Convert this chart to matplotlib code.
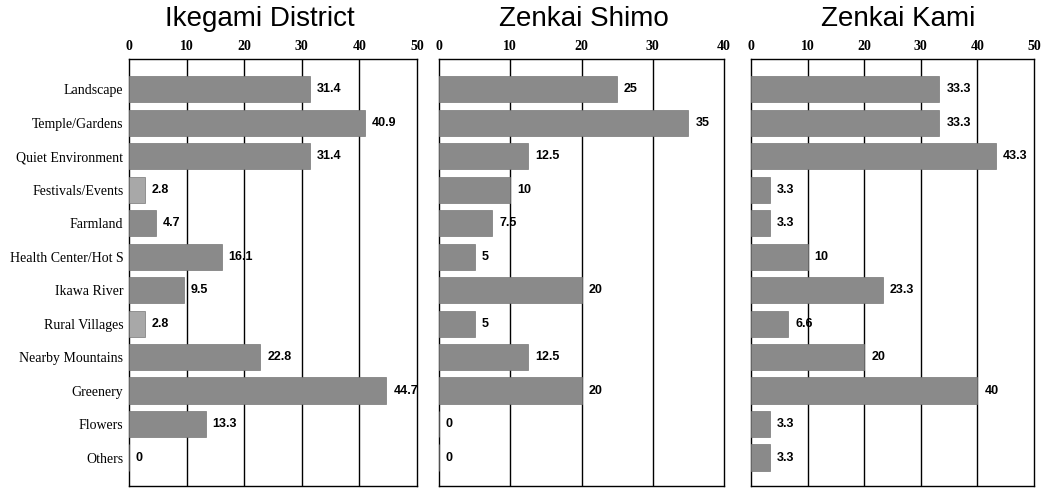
import matplotlib
matplotlib.use('Agg')
import matplotlib.pyplot as plt
import numpy as np

categories = ['Landscape', 'Temple/Gardens', 'Quiet Environment', 'Festivals/Events',
              'Farmland', 'Health Center/Hot S', 'Ikawa River', 'Rural Villages',
              'Nearby Mountains', 'Greenery', 'Flowers', 'Others']
titles = ['Ikegami District', 'Zenkai Shimo', 'Zenkai Kami']
ikegami = [31.4, 40.9, 31.4, 2.8, 4.7, 16.1, 9.5, 2.8, 22.8, 44.7, 13.3, 0]
shimo = [25, 35, 12.5, 10, 7.5, 5, 20, 5, 12.5, 20, 0, 0]
kami = [33.3, 33.3, 43.3, 3.3, 3.3, 10, 23.3, 6.6, 20, 40, 3.3, 3.3]
value_labels = [
    ['31.4', '40.9', '31.4', '2.8', '4.7', '16.1', '9.5', '2.8', '22.8', '44.7', '13.3', '0'],
    ['25', '35', '12.5', '10', '7.5', '5', '20', '5', '12.5', '20', '0', '0'],
    ['33.3', '33.3', '43.3', '3.3', '3.3', '10', '23.3', '6.6', '20', '40', '3.3', '3.3'],
]
xmax = [50, 40, 50]
series = [ikegami, shimo, kami]

W, H = 1046, 488
fig = plt.figure(figsize=(W / 100, H / 100), dpi=100)
# pixel boxes (left, right) of each panel, and title centres
boxes = [(129, 417), (439, 724), (751, 1034)]
title_x = [260, 584, 898]
top, bottom = 59, 486

y = np.arange(len(categories))
for k in range(3):
    l, r = boxes[k]
    ax = fig.add_axes([l / W, 1 - bottom / H, (r - l) / W, (bottom - top) / H])
    vals = series[k]
    cols = ['#8a8a8a'] * len(vals)
    if k == 0:
        # the two tiny bars are printed with a lighter screen
        cols[3] = '#a8a8a8'
        cols[7] = '#a8a8a8'
    ax.barh(y, vals, height=0.78, color=cols, edgecolor='#777777', linewidth=0.5, zorder=3)
    for xv in range(10, xmax[k], 10):
        ax.axvline(xv, color='black', linewidth=1.0, zorder=1)
    for i, v in enumerate(vals):
        ax.annotate(value_labels[k][i], (v, i), xytext=(5, 0), textcoords='offset points',
                    va='center', ha='left', fontsize=9, fontweight='bold',
                    family='Liberation Sans', zorder=4)
    ax.set_xlim(0, xmax[k])
    ax.set_ylim(11.85, -0.9)
    ax.set_xticks(range(0, xmax[k] + 1, 10))
    ax.xaxis.tick_top()
    ax.tick_params(axis='x', length=0, pad=4, labelsize=10)
    for t in ax.get_xticklabels():
        t.set_family('Liberation Serif')
        t.set_fontweight('bold')
    if k == 0:
        ax.set_yticks(y)
        ax.set_yticklabels(categories, family='Liberation Serif', fontsize=10)
        ax.tick_params(axis='y', length=0, pad=4)
    else:
        ax.set_yticks([])
    for s in ax.spines.values():
        s.set_linewidth(1.0)
        s.set_color('black')
    fig.text(title_x[k] / W, 1 - 19 / H, titles[k], fontsize=20,
             family='Liberation Sans', ha='center', va='center')

fig.savefig('out.png', dpi=100)
